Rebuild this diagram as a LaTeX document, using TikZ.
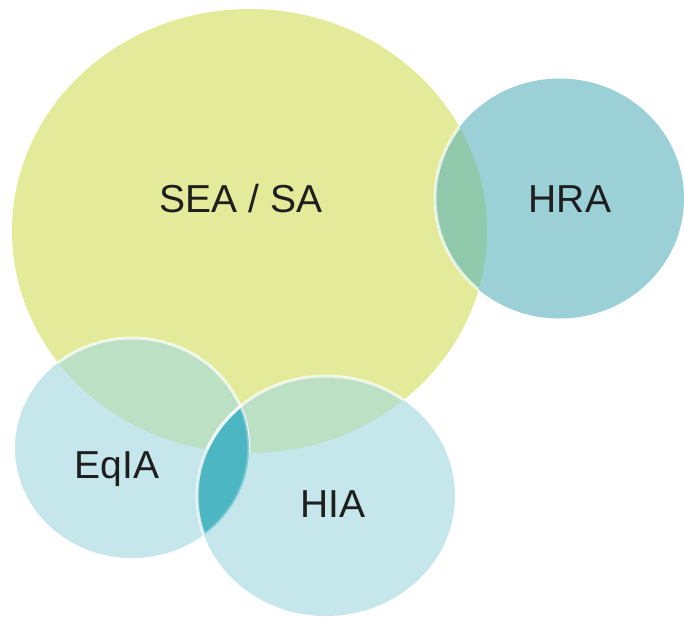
\documentclass[tikz,border=0pt]{standalone}
\usepackage{fontspec}
\setmainfont{Liberation Sans}
\definecolor{seacol}{HTML}{E3EA9A}
\definecolor{hracol}{HTML}{9BD0D7}
\definecolor{smallcol}{HTML}{C5E6EA}
\definecolor{seahracol}{HTML}{90C9AB}
\definecolor{seasmallcol}{HTML}{BCE0C3}
\definecolor{lenscol}{HTML}{4DB6C3}
\definecolor{labelcol}{HTML}{1E1E1E}
\tikzset{
  rim/.style={draw=white, draw opacity=0.7, line width=3pt},
  label/.style={text=labelcol, font=\fontsize{39}{46}\selectfont, anchor=base, inner sep=0pt}
}
\begin{document}
\begin{tikzpicture}[x=1pt,y=-1pt]
                \useasboundingbox (0,0) rectangle (684,616);
                \coordinate (sea) at (249.5,231);
                \coordinate (hra) at (559.5,198.5);
                \coordinate (eqia) at (132,448);
                \coordinate (hia) at (326,496);

                % plain fills
                \fill [seacol] (sea) ellipse [x radius=237.5pt, y radius=222pt];
                \fill [hracol] (hra) ellipse [x radius=124.5pt, y radius=120pt];
                \fill [smallcol] (eqia) ellipse [x radius=117pt, y radius=110pt];
                \fill [smallcol] (hia) ellipse [x radius=129pt, y radius=120pt];

                % overlaps with the big circle
                \begin{scope}
                \clip (sea) ellipse [x radius=237.5pt, y radius=222pt];
                \fill [seahracol] (hra) ellipse [x radius=124.5pt, y radius=120pt];
                \fill [seasmallcol] (eqia) ellipse [x radius=117pt, y radius=110pt];
                \fill [seasmallcol] (hia) ellipse [x radius=129pt, y radius=120pt];
                \draw [rim] (hra) ellipse [x radius=124.5pt, y radius=120pt];
                \draw [rim] (eqia) ellipse [x radius=117pt, y radius=110pt];
                \end{scope}

                % lens
                \begin{scope}
                \clip (eqia) ellipse [x radius=117pt, y radius=110pt];
                \fill [lenscol] (hia) ellipse [x radius=129pt, y radius=120pt];
                \draw [rim] (hia) ellipse [x radius=129pt, y radius=120pt];
                \clip (hia) ellipse [x radius=129pt, y radius=120pt];
                \draw [rim, draw opacity=0.3] (eqia) ellipse [x radius=117pt, y radius=110pt];
                \end{scope}
                \begin{scope}
                \clip (sea) ellipse [x radius=237.5pt, y radius=222pt];
                \draw [rim] (hia) ellipse [x radius=129pt, y radius=120pt];
                \end{scope}

                \node [label] (sealabel) at (241,212) {SEA / SA};
                \node [label] (hralabel) at (570,212) {HRA};
                \node [label] (eqialabel) at (117,478) {EqIA};
                \node [label] (hialabel) at (333,517) {HIA};
            \end{tikzpicture}
\end{document}
